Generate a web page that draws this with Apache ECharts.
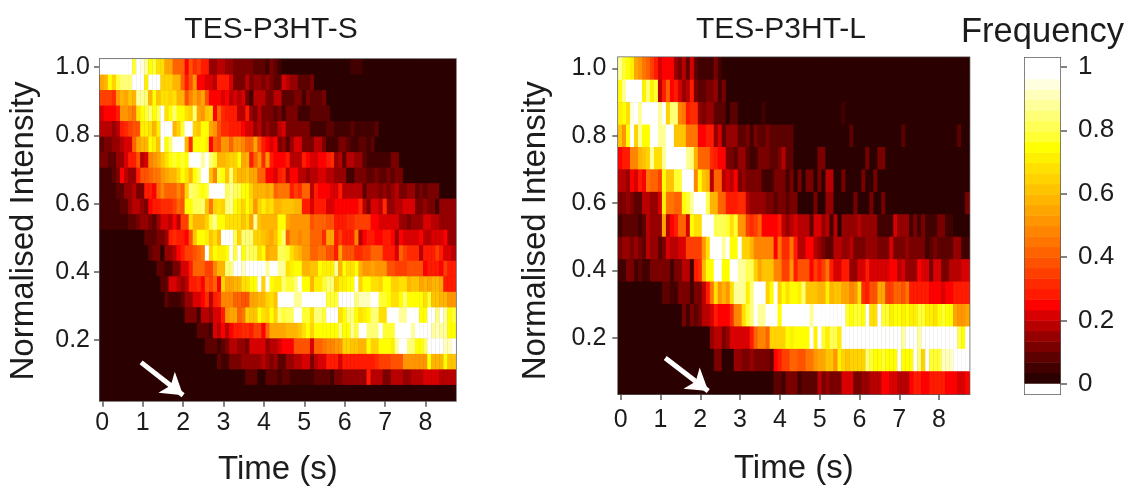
<!DOCTYPE html>
<html><head><meta charset="utf-8">
<style>html,body{margin:0;padding:0;background:#fff}#c{width:1127px;height:486px}</style>
<script src="https://cdn.jsdelivr.net/npm/echarts@6/dist/echarts.min.js"></script>
</head><body><div id="c"></div>
<script>
// Colour steps of the colour bar: first = the white cell below 0, then levels 0..30
const BAR_COLORS = ['#ffffff','#2b0000','#420000','#5c0000','#7a0000','#960000','#b80000','#d80000','#ff0000','#ff1a00','#ff2a00','#ff3f00','#ff5200','#ff6300','#ff7500','#ff8500','#ff9500','#ffa500','#ffb400','#ffc400','#ffd200','#ffe000','#fff000','#ffff00','#ffff33','#ffff55','#ffff77','#ffff99','#ffffbb','#ffffe0','#ffffff','#ffffff'];
// Each character is a frequency level in base 31 (0..u = 0..30); rows run top to bottom, columns 0.1 s apart
const LEFT_ROWS = [
"ttttttttnts qmnkkggccc7 b9a88445544 33333222132 10000000000 00000001110 00000000000 00000000000",
"ghmjnpppttt ltttjjjhhc8 bf776658886 33353443432 26544222300 00000000000 00000000000 00000000000",
"aaa9fhgihqq phmikkjkhhb egegb777675 65631555335 52223313222 30000000000 00000000000 00000000000",
"67778ffedkm npmotkmpmmk jpgfij7c988 85584353332 31333111222 22000000000 00000000000 00000000000",
"5554589abbl lkhlttthjnt tjimmgfb998 88766453433 56333333111 12211112111 11200000000 00000000000",
"23344566cgh hmlitmpttth 9mmml7cbffc ffeccgb8767 34246633355 31113321122 12000000000 00000000000",
"332244688b5 6efgikmnmnm tttqtpnhhij jmgh8cf9f87 77855587667 78945255442 11111133000 00000000000",
"1112375448b bcddfghhjmk hmottienmip jhhiggcc776 89577554556 65544411333 22322323300 00000000000",
"11112244533 887cecccecj ponmnttttoq oommjhhhghc ddd8a9cc587 77668555552 44434345334 42323330000",
"11111224554 3788999acbm moopidjkjpq mljmkfjljkh hiiihh88688 86677777795 36659445566 63343314444",
"11111112234 432466575aa khhhjnqmmkk kkikgqihhhh mmgfffffbcc cbb88899aaa a7766666443 44466554444",
"00000000000 22233489887 bimmlikhttt ojpppjjihgi mpcffeffccc 9gg8a888e57 88778874766 66755666744",
"00000000000 0233044578a abcdtjmllmt ntmpookmghh oonkihffccd dbb8gbbb99a accc8886ca9 995888a8665",
"00000000000 00022113366 8cccaaehhpp ttrtttttqtt qqklmmhhiim lllqhmkkmhf fgfffbbaaab bbb78887a88",
"00000000000 00002266545 8897bac7jgg hhkkmmtjtml lpnnptmmhll nppjllmmtjm mkkjmmjjkkh iighghhg888",
"00000000000 00000211124 46679589eee ccbbgghhjki ttttqqttttt tnnnttttprr rttnnmkkmpm mmmkniihhff",
"00000000000 00000000003 331554668fg gcdjiimkjmj pnoottnnkpp ntttkmppmkl mppkktttqqt ttmmttptqmn",
"00000000000 00000000000 00222165757 88998aa7cgg gghhhikmjmm mmmmpmmqntt ppptnnntttt qttttqrqqmm",
"00000000000 00000000000 00002221235 54436666455 6777bbbb6cc deeffjjiihh mjjmmmlqttp pmmottttrrt",
"00000000000 00000000000 00000002113 33444445434 22445566356 68886888888 889aaabbbff ffffmhhhmii",
"00000000000 00000000000 00000000000 00022200222 12211111122 22133444444 85553355544 55566665555",
"00000000000 00000000000 00000000000 00000000000 00000000000 00000000000 00000000000 00000000000"
];
const RIGHT_ROWS = [
"qnmlgfdca86 77743526211 11310000000 00000000000 00000000000 00000000000 00000000000 00000000000",
"mqttttlpln5 8c786458322 33413000000 00000000000 00000000000 00000000000 00000000000 00000000000",
"lmkstqttttq tjpped89943 44222022000 00010000000 00000000000 01000000000 00000000000 00000000000",
"ifmtjqmmttq qttiiiddd77 88462444223 13223222222 00000000000 00020000000 00000200000 00000000200",
"788eehijqkk qtttttqphcc c9877332442 11333223522 00000033000 00000003003 30000000000 00000000000",
"5547687dcca miinntttemi h5cc5657343 33311133313 03033030550 03000030030 00000000000 00000000000",
"33432255446 lddccmnqttt ohhcc888995 44443323323 30000300440 00003000300 30000000000 00000000003",
"12222125444 g578cc6mkkt ttooonknffa 9ac77778545 65552664515 04444544441 11164441313 11133110000",
"34434325442 365566aaaaf ktttqtmmtjj heeeee7d99d 85577543225 54453334443 33633343333 12322224411",
"11331211333 3313355189h mmttmmttqqo ojgiiieeaaf 8bbb7a8ad86 68844668666 66775644476 63663355566",
"00000000000 22113331335 8dkfhfkqqql ptttjmtjmkm mlpiiihhlhi iggefk98bbg gaaccbd8888 87776778888",
"00000000000 00000313235 5687779eekn ptqqtttmttt ttttqtttttt ttnmnnmtkkt nnlmmlmllnn llkmnmmgffg",
"00000000000 00000000000 04553466666 8ceecjjjjml mmmmtltnloo ltttttttttt tttttqtttqt ttttttttomt",
"00000000000 00000000000 00330004433 43333278aac cbbddfggiif ljijjjjpnmm nmmmtmmmtpj tnnnrrrtttt",
"00000000000 00000000000 00000000000 00000022133 31222253433 36663344555 77665557887 78888777667"
];
const TIME_TICKS = [0,1,2,3,4,5,6,7,8];
const INTENSITY_TICKS = [0.2,0.4,0.6,0.8,1.0];
const BAR_TICKS = [0,0.2,0.4,0.6,0.8,1];
const BAR_LEVELS = BAR_COLORS.map((_, i) => i - 1);
const ARROW_LEFT = [[0.96,0.135],[2.0,0.0385]];
const ARROW_RIGHT = [[1.12,0.14],[2.2,0.042]];
const COLS = 88;

const FONT = '"Liberation Sans", Arial, sans-serif';
const INK = '#1c1c1c', LINE = '#5a5a5a', DARK = '#2b0000';

function cells(rows){
  const out = [];
  rows.forEach((s, r) => {
    const t = s.replace(/ /g,'');
    for (let c = 0; c < COLS; c++) out.push([c, rows.length-1-r, parseInt(t[c] || '0', 31)]);
  });
  return out;
}
const range = n => Array.from({length:n}, (_, i) => String(i));
const cat = (g, n) => ({type:'category', gridIndex:g, data:range(n), show:false});
function valX(g, min, max, name, gap, margin){
  return {type:'value', gridIndex:g, position:'bottom', min, max, name, nameLocation:'middle', nameGap:gap,
    nameTextStyle:{fontFamily:FONT, fontSize:33, color:INK},
    splitLine:{show:false}, axisLine:{show:false},
    axisTick:{show:true, length:6, customValues:TIME_TICKS, lineStyle:{color:LINE, width:1.5}},
    axisLabel:{customValues:TIME_TICKS, margin, fontFamily:FONT, fontSize:25, color:INK, formatter:v => String(v)}};
}
function valY(g, min, max, name, margin, pad, gap){
  return {type:'value', gridIndex:g, position:'left', min, max, name, nameLocation:'middle', nameGap:gap,
    nameTextStyle:{fontFamily:FONT, fontSize:33, color:INK, padding:[0,pad,0,0]},
    splitLine:{show:false}, axisLine:{show:false},
    axisTick:{show:true, length:6, customValues:INTENSITY_TICKS, lineStyle:{color:LINE, width:1.5}},
    axisLabel:{customValues:INTENSITY_TICKS, margin, fontFamily:FONT, fontSize:25, color:INK, formatter:v => v.toFixed(1)}};
}
const gridBase = {show:true, borderColor:LINE, borderWidth:2, containLabel:false, outerBoundsMode:'none'};
const arrow = (xi, yi, pts) => ({type:'line', xAxisIndex:xi, yAxisIndex:yi, data:pts, silent:true, z:5,
  showSymbol:false, lineStyle:{opacity:0},
  markLine:{silent:true, animation:false, symbol:['none','arrow'], symbolSize:[20,21], label:{show:false}, emphasis:{disabled:true},
    lineStyle:{color:'#ffffff', width:5, type:'solid', opacity:1},
    data:[[{coord:pts[0]},{coord:pts[1]}]]}});

const option = {
  animation:false, backgroundColor:'#fff',
  title:[
    {text:'TES-P3HT-S', left:271, top:15, padding:0, textAlign:'center', textStyle:{fontFamily:FONT, fontSize:30, fontWeight:'normal', color:INK}},
    {text:'TES-P3HT-L', left:781, top:15, padding:0, textAlign:'center', textStyle:{fontFamily:FONT, fontSize:30, fontWeight:'normal', color:INK}},
    {text:'Frequency', left:1042.5, top:15, padding:0, textAlign:'center', textStyle:{fontFamily:FONT, fontSize:34.5, fontWeight:'normal', color:INK}}
  ],
  grid:[
    Object.assign({left:100, top:59.3, width:355.7, height:341.4, backgroundColor:DARK}, gridBase),
    Object.assign({left:618.3, top:57.5, width:351, height:336.5, backgroundColor:DARK}, gridBase),
    Object.assign({left:1025, top:58, width:35, height:336, backgroundColor:'transparent'}, gridBase)
  ],
  xAxis:[cat(0,COLS), valX(0,-0.057,8.747,'Time (s)',53,10), cat(1,COLS), valX(1,-0.06,8.76,'Time (s)',58,13.5), cat(2,1)],
  yAxis:[cat(0,LEFT_ROWS.length), valY(0,0.0227,1.0227,'Normalised Intensity',10,2,60),
         cat(1,RIGHT_ROWS.length), valY(1,0.033,1.033,'Normalised Intensity',12,10,66),
         cat(2,BAR_LEVELS.length),
         {type:'value', gridIndex:2, position:'right', min:-0.0315, max:1.028, splitLine:{show:false}, axisLine:{show:false},
          axisTick:{show:true, length:7, customValues:BAR_TICKS, lineStyle:{color:LINE, width:1.5}},
          axisLabel:{customValues:BAR_TICKS, margin:18, fontFamily:FONT, fontSize:26, color:INK, formatter:v => String(v)}}],
  visualMap:{show:false, type:'continuous', min:-1, max:30, dimension:2, seriesIndex:[0,1,2], inRange:{color:BAR_COLORS}},
  series:[
    {type:'heatmap', xAxisIndex:0, yAxisIndex:0, data:cells(LEFT_ROWS), itemStyle:{borderWidth:0}, progressive:0},
    {type:'heatmap', xAxisIndex:2, yAxisIndex:2, data:cells(RIGHT_ROWS), itemStyle:{borderWidth:0}, progressive:0},
    {type:'heatmap', xAxisIndex:4, yAxisIndex:4, data:BAR_LEVELS.map((v,i)=>[0,i,v]), itemStyle:{borderWidth:0}, progressive:0},
    arrow(1,1,ARROW_LEFT),
    arrow(3,3,ARROW_RIGHT)
  ]
};
const chart = echarts.init(document.getElementById('c'), null, {renderer:'canvas'});
chart.setOption(option);
</script></body></html>
